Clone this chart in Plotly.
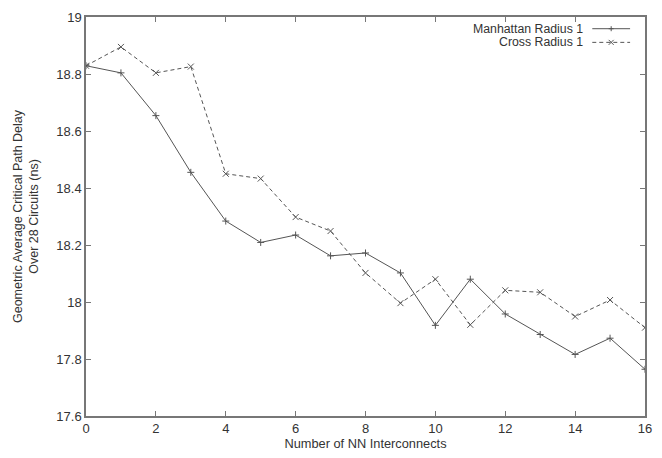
import plotly.graph_objects as go

x_vals = list(range(17))
manhattan = [18.829, 18.804, 18.654, 18.455, 18.284, 18.209, 18.235, 18.162, 18.172,
             18.102, 17.918, 18.080, 17.958, 17.886, 17.816, 17.873, 17.764]
cross = [18.829, 18.895, 18.804, 18.826, 18.450, 18.433, 18.298, 18.249, 18.102,
         17.996, 18.080, 17.920, 18.041, 18.034, 17.949, 18.007, 17.910]
series_names = ["Manhattan Radius 1", "Cross Radius 1"]

line_col = "#555555"
txt_col = "#333333"
FONT = "Liberation Sans, Arial"
fig = go.Figure()
fig.add_trace(go.Scatter(x=x_vals, y=manhattan, mode="lines+markers", name=series_names[0],
                         line=dict(color=line_col, width=1),
                         marker=dict(symbol="cross-thin-open", size=5, line=dict(color=line_col, width=1))))
fig.add_trace(go.Scatter(x=x_vals, y=cross, mode="lines+markers", name=series_names[1],
                         line=dict(color=line_col, width=1, dash="4px,3px"),
                         marker=dict(symbol="x-thin-open", size=6, line=dict(color=line_col, width=1))))

axis_common = dict(showgrid=False, zeroline=False, showline=True, linecolor="#777777", linewidth=1.5,
                   mirror="ticks", ticks="inside", ticklen=5, tickcolor="#777777",
                   tickfont=dict(family=FONT, size=13, color=txt_col))
fig.update_xaxes(range=[0, 16], dtick=2, title=dict(text="Number of NN Interconnects", standoff=3,
                 font=dict(family=FONT, size=12.8, color=txt_col)), **axis_common)
fig.update_yaxes(range=[17.6, 19], dtick=0.2, title=dict(text="Geometric Average Critical Path Delay<br>Over 28 Circuits (ns)", standoff=15,
                 font=dict(family=FONT, size=12.5, color=txt_col)), **axis_common)

# gnuplot-style legend: right-aligned text with sample to its right
px_w, px_h = 562, 409
text_right = (587 - 86) / px_w
samp_x0 = (595 - 86) / px_w
samp_x1 = (633 - 86) / px_w
samp_xm = (614 - 86) / px_w
rows = [(419 - 22) / px_h, (419 - 36) / px_h]
for i, name in enumerate(series_names):
    fig.add_annotation(xref="paper", yref="paper", x=text_right, y=rows[i], xanchor="right", yanchor="middle",
                       text=name, showarrow=False, borderpad=0,
                       font=dict(family=FONT, size=12.3, color=txt_col))
    fig.add_shape(type="line", xref="paper", yref="paper", x0=samp_x0, x1=samp_x1, y0=rows[i], y1=rows[i],
                  line=dict(color=line_col, width=1, dash="solid" if i == 0 else "4px,3px"))
# markers in legend
m = 2.5
fig.add_shape(type="line", xref="paper", yref="paper", xsizemode="pixel", ysizemode="pixel",
              xanchor=samp_xm, yanchor=rows[0], x0=0, x1=0, y0=-m, y1=m, line=dict(color=line_col, width=1))
fig.add_shape(type="line", xref="paper", yref="paper", xsizemode="pixel", ysizemode="pixel",
              xanchor=samp_xm, yanchor=rows[0], x0=-m, x1=m, y0=0, y1=0, line=dict(color=line_col, width=1))
fig.add_shape(type="line", xref="paper", yref="paper", xsizemode="pixel", ysizemode="pixel",
              xanchor=samp_xm, yanchor=rows[1], x0=-m, x1=m, y0=-m, y1=m, line=dict(color=line_col, width=1))
fig.add_shape(type="line", xref="paper", yref="paper", xsizemode="pixel", ysizemode="pixel",
              xanchor=samp_xm, yanchor=rows[1], x0=-m, x1=m, y0=m, y1=-m, line=dict(color=line_col, width=1))

fig.update_layout(width=662, height=458, margin=dict(l=86, r=14, t=10, b=39),
                  plot_bgcolor="white", paper_bgcolor="white", showlegend=False)
fig.write_html("out.html")
